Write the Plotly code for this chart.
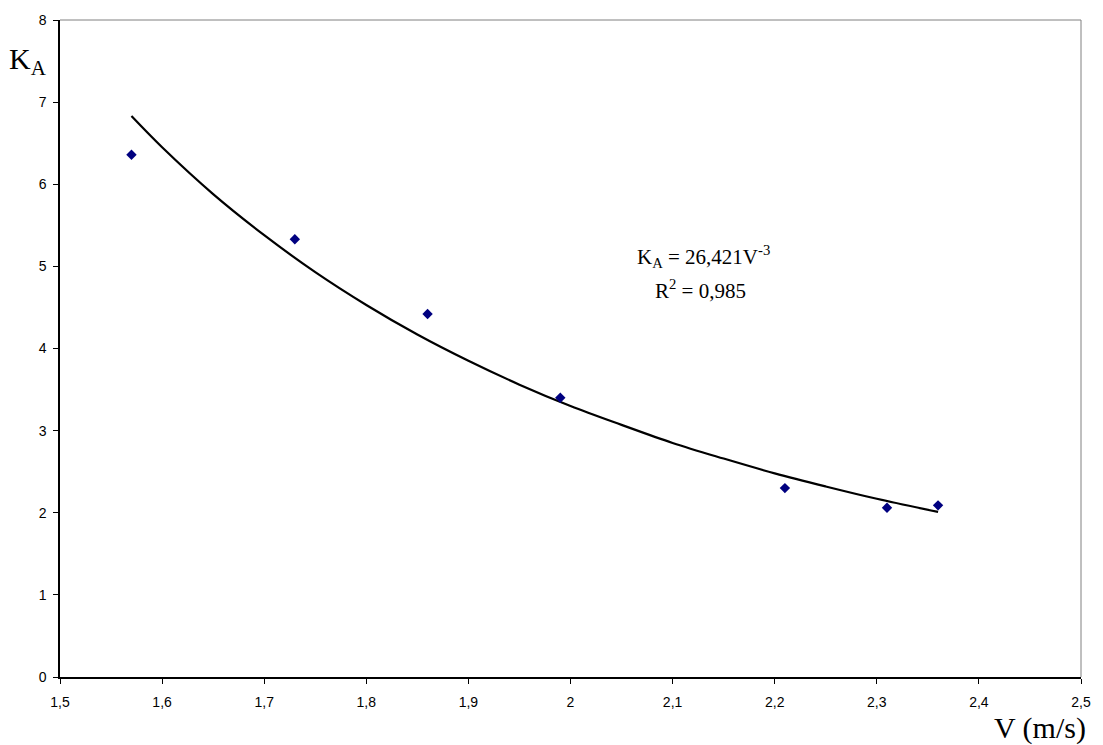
import plotly.graph_objects as go

# Measured data
v_points = [1.57, 1.73, 1.86, 1.99, 2.21, 2.31, 2.36]
ka_points = [6.36, 5.33, 4.42, 3.40, 2.30, 2.06, 2.09]

# Power trendline
v_trend = [1.57, 1.60, 1.65, 1.70, 1.75, 1.80, 1.85, 1.90, 1.95, 2.00, 2.05, 2.10, 2.15, 2.20, 2.25, 2.30, 2.36]
ka_trend = [6.83, 6.45, 5.88, 5.38, 4.93, 4.53, 4.17, 3.85, 3.56, 3.30, 3.07, 2.85, 2.66, 2.48, 2.32, 2.17, 2.01]

x_ticks = [1.5, 1.6, 1.7, 1.8, 1.9, 2.0, 2.1, 2.2, 2.3, 2.4, 2.5]
x_tick_labels = ["1,5", "1,6", "1,7", "1,8", "1,9", "2", "2,1", "2,2", "2,3", "2,4", "2,5"]
y_ticks = [0, 1, 2, 3, 4, 5, 6, 7, 8]

fig = go.Figure()
fig.add_trace(go.Scatter(x=v_trend, y=ka_trend, mode="lines", line=dict(color="black", width=2.2, shape="spline"),
                         hoverinfo="skip", showlegend=False))
fig.add_trace(go.Scatter(x=v_points, y=ka_points, mode="markers",
                         marker=dict(symbol="diamond", size=8, color="#000080"), showlegend=False))

serif = "Liberation Serif, Times New Roman"
fig.update_layout(
    width=1103, height=745,
    margin=dict(l=60, r=22, t=12, b=68),
    paper_bgcolor="white", plot_bgcolor="white",
    separators=", ",
    font=dict(family="Liberation Sans, Arial", size=14, color="black"),
    xaxis=dict(range=[1.5, 2.5], tickvals=x_ticks, ticktext=x_tick_labels, showgrid=False, zeroline=False,
               showline=True, linecolor="black", linewidth=1.5, ticks="outside", ticklen=5, tickcolor="black",
               ticklabelstandoff=6, tickfont=dict(size=14)),
    yaxis=dict(range=[0, 8], tickvals=y_ticks, showgrid=False, zeroline=False,
               showline=True, linecolor="black", linewidth=1.5, ticks="outside", ticklen=5, tickcolor="black",
               ticklabelstandoff=4, tickfont=dict(size=14)),
    shapes=[
        dict(type="line", xref="paper", yref="paper", x0=0, x1=1, y0=1, y1=1, line=dict(color="#808080", width=1)),
        dict(type="line", xref="paper", yref="paper", x0=1, x1=1, y0=0, y1=1, line=dict(color="#808080", width=1)),
    ],
    annotations=[
        dict(text="K<sub>A</sub>", xref="paper", yref="paper", x=-0.052, y=0.937, xanchor="left", yanchor="middle",
             showarrow=False, font=dict(family=serif, size=30)),
        dict(text="V (m/s)", xref="paper", yref="paper", x=1.0069, y=-0.077, xanchor="right", yanchor="middle",
             showarrow=False, font=dict(family=serif, size=30)),
        dict(text="K<sub>A</sub> = 26,421V<sup>-3</sup>", x=2.13, y=5.12,
             xanchor="center", yanchor="middle", showarrow=False, font=dict(family=serif, size=21)),
        dict(text="R<sup>2</sup> = 0,985", x=2.127, y=4.72,
             xanchor="center", yanchor="middle", showarrow=False, font=dict(family=serif, size=21)),
    ],
)

fig.write_html("out.html")
